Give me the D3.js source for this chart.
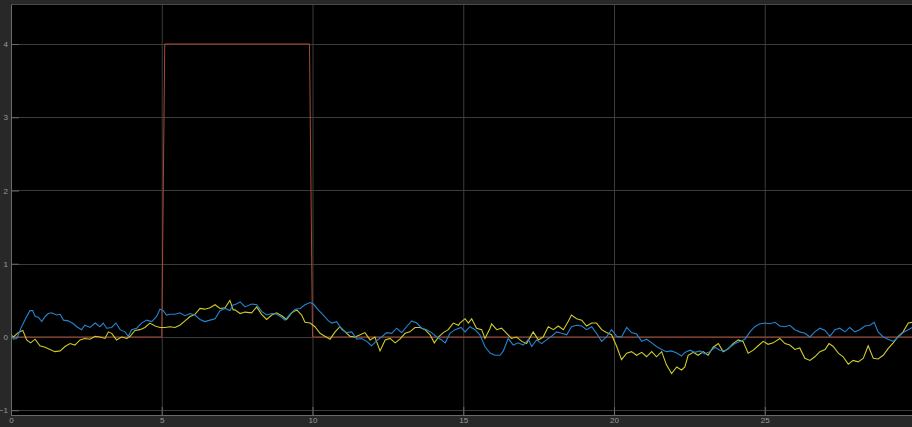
<!DOCTYPE html>
<html><head><meta charset="utf-8">
<script src="https://cdn.jsdelivr.net/npm/d3@7"></script>
<style>html,body{margin:0;padding:0;background:#282828;overflow:hidden}svg{display:block}</style>
</head><body><svg id="c" width="912" height="427"></svg>
<script>
const xTicks = [0, 5, 10, 15, 20, 25];
const yTicks = [-1, 0, 1, 2, 3, 4];

const redT = [0, 5.0, 5.1, 9.9, 10.0, 30];
const redV = [0, 0, 4, 4, 0, 0];

const blueT = [0.00,0.08,0.19,0.35,0.52,0.63,0.72,0.80,0.91,1.02,1.13,1.24,1.35,1.51,1.63,1.74,1.90,2.07,2.18,2.34,2.45,2.62,2.79,2.95,3.06,3.17,3.34,3.48,3.62,3.78,3.89,4.00,4.17,4.33,4.50,4.67,4.83,4.94,5.05,5.16,5.27,5.44,5.60,5.77,5.94,6.10,6.27,6.43,6.60,6.77,6.93,7.10,7.26,7.37,
 7.43,7.60,7.76,7.98,8.15,8.31,8.48,8.65,8.81,8.98,9.09,9.25,9.42,9.59,9.75,9.92,10.03,10.19,10.36,10.53,10.64,10.80,10.97,11.13,11.30,11.47,11.63,11.80,11.96,12.13,12.29,12.46,12.63,12.79,12.96,13.12,13.29,13.46,13.62,13.79,13.95,14.12,14.28,14.40,14.56,14.73,14.93,
 15.06,15.22,15.39,15.55,15.72,15.89,16.05,16.22,16.33,16.49,16.66,16.82,16.99,17.16,17.27,17.43,17.60,17.76,17.93,18.10,18.26,18.43,18.59,18.76,18.93,19.09,19.26,19.42,19.59,19.75,19.92,20.09,20.25,20.42,20.58,20.75,20.92,21.08,21.25,21.41,21.58,21.74,21.91,22.08,22.24,
 22.35,22.52,22.68,22.85,23.01,23.18,23.35,23.51,23.68,23.84,24.01,24.17,24.34,24.51,24.67,24.84,25.00,25.17,25.34,25.50,25.67,25.83,26.00,26.16,26.33,26.50,26.66,26.83,27.00,27.16,27.33,27.49,27.66,27.82,27.99,28.15,28.32,28.49,28.63,28.76,28.93,29.09,29.26,29.43,29.59,29.76,29.90];
const blueV = [0.03,-0.03,-0.02,0.14,0.28,0.36,0.36,0.28,0.27,0.21,0.28,0.32,0.33,0.30,0.31,0.23,0.22,0.18,0.14,0.10,0.16,0.13,0.19,0.14,0.19,0.12,0.13,0.19,0.10,0.07,0.01,0.10,0.12,0.19,0.23,0.21,0.28,0.38,0.36,0.30,0.31,0.31,0.33,0.29,0.32,0.30,0.24,0.21,0.23,0.25,0.36,0.39,0.36,0.44,
 0.44,0.48,0.41,0.45,0.44,0.35,0.30,0.32,0.31,0.27,0.23,0.31,0.38,0.39,0.44,0.47,0.45,0.37,0.30,0.22,0.19,0.21,0.10,0.06,0.07,-0.03,-0.02,-0.06,-0.12,-0.05,0.00,0.06,0.05,0.12,0.06,0.14,0.22,0.19,0.12,0.10,0.06,0.00,-0.04,-0.08,0.05,0.10,0.13,
 0.07,0.14,0.10,0.03,-0.13,-0.22,-0.25,-0.25,-0.19,-0.02,-0.11,-0.08,-0.11,-0.03,-0.13,-0.04,-0.09,-0.04,0.01,0.07,0.05,0.03,0.14,0.16,0.15,0.10,0.14,0.05,-0.06,0.00,0.10,0.01,0.00,0.13,0.06,0.04,-0.06,-0.03,-0.08,-0.13,-0.17,-0.20,-0.19,-0.22,-0.26,
 -0.21,-0.18,-0.21,-0.19,-0.23,-0.20,-0.14,-0.18,-0.19,-0.14,-0.09,-0.06,-0.03,0.07,0.14,0.18,0.19,0.18,0.20,0.15,0.14,0.16,0.10,0.07,0.05,0.00,0.07,0.12,0.09,0.01,0.10,0.12,0.07,0.13,0.07,0.10,0.15,0.16,0.20,0.07,0.00,-0.03,-0.06,0.00,0.06,0.10,0.13];

const yellowT = [0.00,0.08,0.24,0.39,0.52,0.65,0.80,0.96,1.13,1.29,1.46,1.63,1.79,1.96,2.12,2.29,2.45,2.62,2.79,2.95,3.12,3.23,3.34,3.50,3.67,3.84,3.95,4.11,4.28,4.44,4.61,4.78,4.94,5.11,5.27,5.44,5.60,5.77,5.94,6.10,6.27,6.43,6.60,6.77,6.93,7.10,7.26,7.37,
 7.43,7.60,7.76,7.98,8.15,8.31,8.48,8.65,8.81,8.98,9.14,9.31,9.48,9.64,9.75,9.92,10.08,10.25,10.41,10.58,10.75,10.91,11.08,11.24,11.41,11.58,11.74,11.91,12.07,12.24,12.41,12.57,12.74,12.90,13.07,13.23,13.40,13.57,13.73,13.90,14.04,14.20,14.34,14.50,14.67,14.84,
 14.89,15.06,15.17,15.28,15.44,15.61,15.72,15.89,15.94,16.11,16.27,16.44,16.60,16.77,16.94,17.10,17.32,17.49,17.65,17.82,17.99,18.15,18.32,18.48,18.59,18.76,18.93,19.09,19.26,19.42,19.59,19.75,19.92,20.09,20.25,20.42,20.58,20.75,20.92,21.08,21.25,21.41,21.58,21.74,21.91,22.08,22.24,
 22.35,22.46,22.63,22.79,22.96,23.12,23.29,23.46,23.62,23.79,23.95,24.12,24.28,24.45,24.62,24.78,24.95,25.11,25.28,25.50,25.67,25.83,26.00,26.16,26.33,26.50,26.66,26.83,27.00,27.13,27.27,27.44,27.60,27.77,27.93,28.10,28.27,28.43,28.60,28.76,28.93,29.09,29.26,29.43,29.59,29.76,29.90];
const yellowV = [0.03,0.00,0.06,0.09,-0.04,-0.08,-0.03,-0.12,-0.14,-0.17,-0.20,-0.19,-0.13,-0.09,-0.11,-0.04,-0.02,-0.03,0.01,0.00,-0.02,0.07,0.05,-0.04,0.00,-0.02,0.01,0.09,0.10,0.13,0.19,0.15,0.13,0.13,0.14,0.13,0.16,0.22,0.28,0.31,0.39,0.38,0.40,0.44,0.39,0.40,0.50,0.37,
 0.37,0.32,0.34,0.33,0.41,0.31,0.24,0.30,0.33,0.29,0.24,0.33,0.37,0.30,0.20,0.19,0.14,0.05,0.01,-0.03,0.07,0.14,0.07,0.01,0.00,0.03,0.06,-0.04,0.00,-0.19,-0.04,-0.02,-0.08,-0.03,0.05,0.07,0.13,0.13,0.10,0.03,-0.08,0.01,0.06,0.10,0.19,0.16,
 0.19,0.25,0.19,0.25,0.12,0.10,-0.02,0.12,0.18,0.10,0.12,0.05,-0.02,0.00,-0.06,-0.09,0.07,-0.04,0.00,0.14,0.10,0.15,0.10,0.21,0.30,0.25,0.23,0.15,0.19,0.19,0.10,0.06,0.03,-0.13,-0.31,-0.22,-0.20,-0.25,-0.21,-0.27,-0.20,-0.27,-0.20,-0.38,-0.50,-0.41,-0.45,
 -0.41,-0.25,-0.21,-0.25,-0.20,-0.25,-0.14,-0.09,-0.20,-0.16,-0.09,-0.04,-0.06,-0.22,-0.18,-0.12,-0.06,-0.10,-0.08,-0.02,-0.09,-0.11,-0.17,-0.15,-0.29,-0.32,-0.27,-0.20,-0.17,-0.09,-0.13,-0.22,-0.27,-0.37,-0.32,-0.34,-0.29,-0.12,-0.29,-0.30,-0.25,-0.16,-0.08,0.01,0.07,0.19,0.20];

const svg = d3.select('#c');
const L = 11, T = 4, R = 913, B = 415;
const x = d3.scaleLinear().domain([0, (R - L) / 30.15]).range([L, R]);
const y = d3.scaleLinear().domain([-1.065, 4.546]).range([B, T]);

svg.append('rect').attr('width', 912).attr('height', 427).attr('fill', '#282828');
svg.append('rect').attr('x', L).attr('y', T).attr('width', R - L).attr('height', B - T).attr('fill', '#000');

const g = svg.append('g');
g.selectAll('.gx').data(xTicks).join('line')
  .attr('x1', d => x(d) + 0.5).attr('x2', d => x(d) + 0.5).attr('y1', T).attr('y2', B)
  .attr('stroke', '#3c3c3c').attr('stroke-width', 1);
g.selectAll('.gy').data(yTicks).join('line')
  .attr('x1', L).attr('x2', R).attr('y1', d => Math.round(y(d)) + 0.5).attr('y2', d => Math.round(y(d)) + 0.5)
  .attr('stroke', '#3c3c3c').attr('stroke-width', 1);

const ax = d3.axisBottom(x).tickValues(xTicks).tickSize(-8).tickPadding(4).tickFormat(d3.format('d'));
const ay = d3.axisLeft(y).tickValues(yTicks).tickSize(-8).tickPadding(3).tickFormat(d3.format('d'));
const gx = svg.append('g').attr('transform', `translate(0,${B})`).call(ax);
const gy = svg.append('g').attr('transform', `translate(${L},0)`).call(ay);
[gx, gy].forEach(a => {
  a.select('.domain').attr('stroke', '#6a6a6a');
  a.selectAll('.tick line').attr('stroke', '#6a6a6a');
  a.selectAll('text').attr('fill', '#9a9a9a').attr('font-family', 'Liberation Sans, Arial, sans-serif').attr('font-size', 8);
});
gx.selectAll('text').attr('dy', '0.5em');
svg.append('line').attr('x1', L).attr('x2', R).attr('y1', T + 0.5).attr('y2', T + 0.5).attr('stroke', '#4a4a4a');

const line = (ts, vs) => d3.line().x((d, i) => x(ts[i])).y(d => y(d))(vs);
svg.append('clipPath').attr('id', 'cp').append('rect').attr('x', L).attr('y', T).attr('width', R - L).attr('height', B - T);
const lines = svg.append('g').attr('clip-path', 'url(#cp)');
lines.append('path').attr('d', line(redT, redV)).attr('fill', 'none').attr('stroke', '#a84a34').attr('stroke-width', 1);
lines.append('path').attr('d', line(yellowT, yellowV)).attr('fill', 'none').attr('stroke', '#cccc2a').attr('stroke-width', 1.1);
lines.append('path').attr('d', line(blueT, blueV)).attr('fill', 'none').attr('stroke', '#2484d0').attr('stroke-width', 1.1);
</script></body></html>
